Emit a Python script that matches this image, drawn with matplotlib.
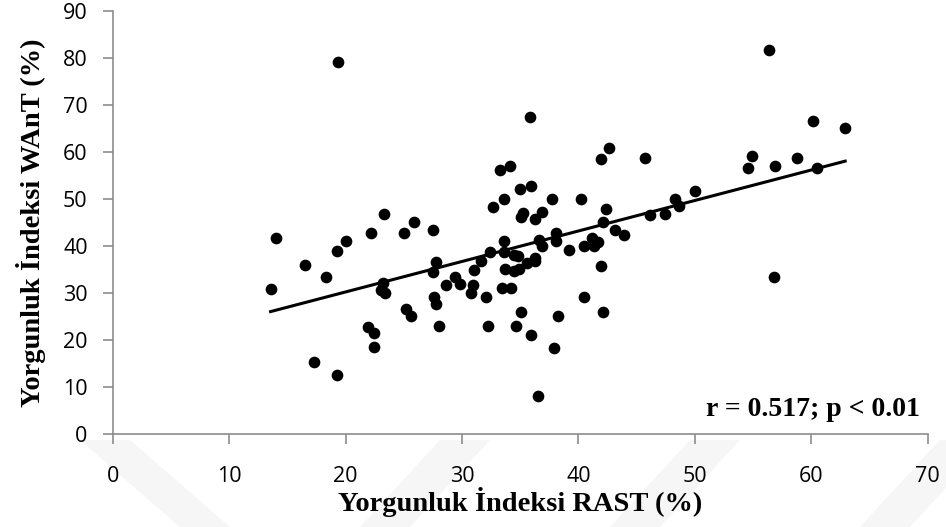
import numpy as np
import matplotlib.pyplot as plt
from matplotlib.patches import Polygon

# fatigue index values (%)
rast = [13.56, 13.99, 16.48, 17.28, 18.28, 19.25, 19.25, 19.37, 20.0, 21.9,
        22.2, 22.4, 22.46, 23.0, 23.2, 23.4, 23.3, 24.98, 25.2, 25.6,
        25.9, 27.5, 27.5, 27.6, 27.8, 27.8, 27.98, 28.6, 29.4, 29.8,
        30.8, 30.9, 31.0, 31.67, 32.1, 32.2, 32.4, 32.7, 33.29, 33.4,
        33.6, 33.6, 33.6, 33.7, 34.1, 34.2, 34.45, 34.45, 34.6, 34.8,
        34.9, 35.02, 35.1, 35.1, 35.2, 35.6, 35.82, 35.9, 35.9, 36.3,
        36.3, 36.3, 36.5, 36.6, 36.9, 36.9, 37.7, 37.9, 38.05, 38.05,
        38.2, 39.2, 40.2, 40.5, 40.5, 41.2, 41.3, 41.7, 41.9, 41.9,
        42.1, 42.1, 42.4, 42.63, 43.1, 43.9, 45.7, 46.1, 47.4, 48.3,
        48.6, 50.0, 54.6, 54.9, 56.4, 56.8, 56.9, 58.8, 60.1, 60.5,
        62.9]
want = [30.8, 41.6, 35.96, 15.4, 33.3, 38.9, 12.5, 79.1, 41.1, 22.7,
        42.8, 18.6, 21.4, 30.6, 32.1, 30.1, 46.9, 42.8, 26.7, 25.0,
        45.0, 43.5, 34.5, 29.2, 36.7, 27.7, 23.0, 31.6, 33.3, 31.9,
        30.1, 31.7, 34.9, 36.9, 29.1, 23.0, 38.7, 48.3, 56.2, 31.1,
        49.9, 41.1, 38.8, 35.2, 57.0, 31.1, 38.1, 34.7, 23.0, 37.9,
        35.2, 52.1, 46.2, 26.0, 47.0, 36.4, 67.5, 52.8, 21.1, 45.7,
        37.4, 36.8, 8.0, 41.3, 47.2, 40.0, 49.9, 18.2, 42.7, 41.1,
        25.0, 39.1, 49.9, 40.0, 29.1, 41.6, 40.0, 40.9, 58.5, 35.7,
        45.2, 26.0, 47.9, 60.8, 43.4, 42.3, 58.8, 46.7, 46.9, 50.0,
        48.5, 51.6, 56.5, 59.1, 81.8, 33.3, 57.1, 58.8, 66.7, 56.7,
        65.2]

x_ticks = np.arange(0, 71, 10)
y_ticks = np.arange(0, 91, 10)

tick_font = ['Open Sans', 'DejaVu Sans']
label_font = ['Liberation Serif', 'DejaVu Serif']
grey = '#8c8c8c'

fig = plt.figure(figsize=(9.46, 5.27), dpi=100)

# faint page watermark bands below the plot, kept behind everything
for pts in [[(80, 440), (130, 440), (230, 527), (180, 527)],
            [(440, 440), (490, 440), (410, 527), (360, 527)],
            [(690, 440), (740, 440), (660, 527), (610, 527)],
            [(940, 440), (990, 440), (910, 527), (860, 527)]]:
    poly = Polygon([(px / 946, 1 - py / 527) for px, py in pts],
                   closed=True, transform=fig.transFigure,
                   facecolor='#f6f6f6', edgecolor='none', zorder=-10)
    fig.patches.append(poly)

ax = fig.add_axes([0.1191, 0.1765, 0.8617, 0.8026])
ax.patch.set_alpha(0)

ax.plot(rast, want, 'o', color='black', markersize=7.4, zorder=3)

# linear trend line over the data range
k, b = np.polyfit(rast, want, 1)
xl = np.array([min(rast), max(rast)])
ax.plot(xl, k * xl + b, color='black', linewidth=2.2, zorder=2)

ax.set_xlim(0, 70)
ax.set_ylim(0, 90)
ax.set_xticks(x_ticks)
ax.set_yticks(y_ticks)
ax.set_xticklabels([str(v) for v in x_ticks], family=tick_font, fontsize=15.5)
ax.set_yticklabels([str(v) for v in y_ticks], family=tick_font, fontsize=15.5)

for side in ['top', 'right']:
    ax.spines[side].set_visible(False)
for side in ['left', 'bottom']:
    ax.spines[side].set_color(grey)
    ax.spines[side].set_linewidth(1.2)
ax.tick_params(axis='both', direction='out', length=7, width=1.2, color=grey)
ax.tick_params(axis='x', pad=16)
ax.tick_params(axis='y', pad=11)

ax.set_xlabel('Yorgunluk İndeksi RAST (%)', family=label_font,
              fontweight='bold', fontsize=20.5, labelpad=0)
ax.set_ylabel('Yorgunluk İndeksi WAnT (%)', family=label_font,
              fontweight='bold', fontsize=20.5, labelpad=12)

ax.text(0.99, 0.043, 'r = 0.517; p < 0.01', transform=ax.transAxes,
        ha='right', va='baseline', family=label_font, fontweight='bold',
        fontsize=20)

fig.savefig('out.png', dpi=100)
